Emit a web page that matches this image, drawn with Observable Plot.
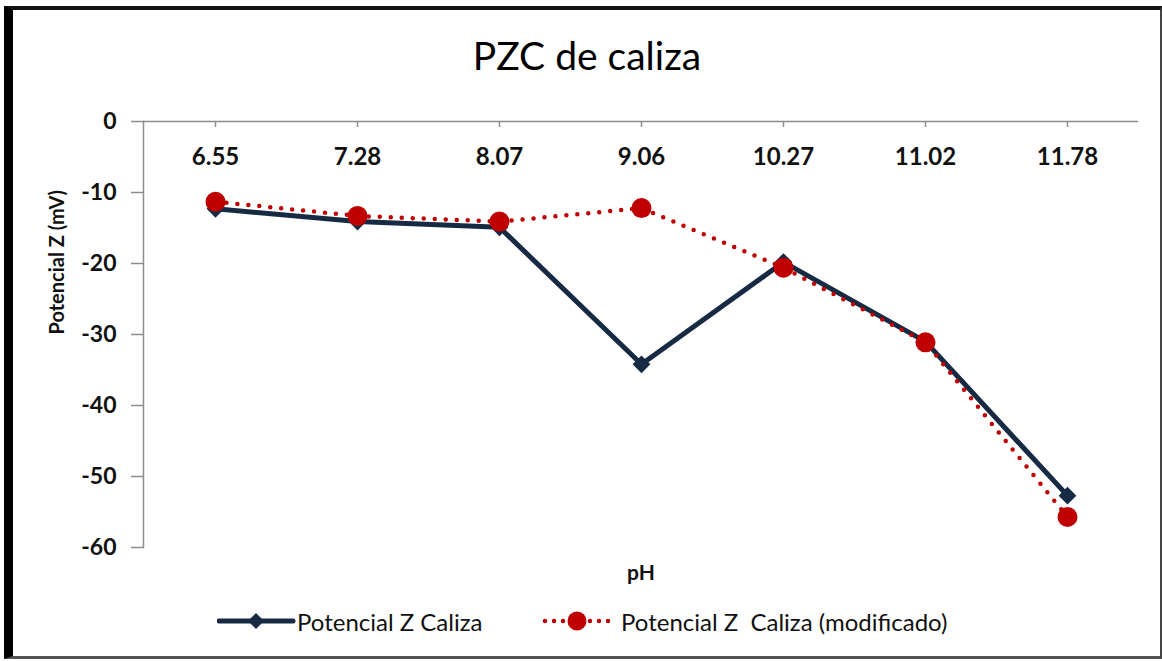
<!DOCTYPE html>
<html>
<head>
<meta charset="utf-8">
<script src="https://cdn.jsdelivr.net/npm/d3@7"></script>
<script src="https://cdn.jsdelivr.net/npm/@observablehq/plot@0.6"></script>
<style>
  html, body { margin: 0; padding: 0; background: #fff; }
  body { width: 1162px; height: 661px; position: relative; overflow: hidden; font-family: Lato, "Open Sans", sans-serif; }
  #frame { position: absolute; left: 4px; top: 6px; width: 1158px; height: 653px; box-sizing: border-box;
           border-left: 9px solid #000; border-top: 4px solid #111; border-right: 2px solid #444; border-bottom: 3px solid #555; }
  #title { position: absolute; top: 32px; left: 587px; transform: translateX(-50%); font-size: 39px; color: #000; white-space: nowrap; }
  #chart { position: absolute; left: 0; top: 80px; }
  #legend { position: absolute; top: 607px; left: 0; width: 1162px; height: 28px; }
  .item { position: absolute; top: 0; display: flex; align-items: center; height: 28px; font-size: 24px; color: #111; white-space: pre; }
  .item svg { display: block; }
</style>
</head>
<body>
<div id="frame"></div>
<div id="title">PZC de caliza</div>
<div id="chart"></div>
<div id="legend"></div>
<script>
const categories = ["6.55", "7.28", "8.07", "9.06", "10.27", "11.02", "11.78"];
const seriesNames = ["Potencial Z Caliza", "Potencial Z  Caliza (modificado)"];
const caliza = [-12.3, -14.1, -14.9, -34.2, -19.8, -31.0, -52.7];
const calizaMod = [-11.3, -13.3, -14.1, -12.2, -20.6, -31.1, -55.7];
const yTicks = [0, -10, -20, -30, -40, -50, -60];
const yLabel = "Potencial Z (mV)";
const xLabel = "pH";

const navy = "#172a44";
const red = "#c00000";
const axisGray = "#8c8c8c";

const rows1 = categories.map((c, i) => ({cat: c, v: caliza[i]}));
const rows2 = categories.map((c, i) => ({cat: c, v: calizaMod[i]}));

const chart = Plot.plot({
  width: 1162,
  height: 520,
  marginTop: 41,
  marginBottom: 53,
  marginLeft: 143,
  marginRight: 24,
  style: {fontFamily: "Lato, 'Open Sans', sans-serif", background: "transparent"},
  x: {type: "point", domain: categories, padding: 0.5, axis: null},
  y: {domain: [-60, 0], axis: null},
  marks: [
    // y axis line and ticks
    Plot.frame({anchor: "left", stroke: axisGray, strokeWidth: 1.5}),
    Plot.axisY({ticks: yTicks, tickSize: 12, tickPadding: 15, stroke: axisGray, strokeWidth: 1.5,
                fontSize: 23, fontWeight: "bold", color: "#111", label: null, tickFormat: d => String(d).replace("−", "-")}),
    // x axis line at y = 0 with ticks pointing down
    Plot.ruleY([0], {stroke: axisGray, strokeWidth: 1.5}),
    Plot.ruleX(categories, {x: d => d, y1: 0, y2: 0, insetBottom: -6, stroke: axisGray, strokeWidth: 1.5}),
    Plot.axisX({anchor: "top", tickSize: 0, tickPadding: 0, dy: 36, lineAnchor: "middle",
                fontSize: 24, fontWeight: "bold", color: "#111", label: null}),
    // series 1
    Plot.line(rows1, {x: "cat", y: "v", stroke: navy, strokeWidth: 5, strokeLinejoin: "miter"}),
    Plot.dot(rows1, {x: "cat", y: "v", symbol: "diamond2", r: 8, fill: navy, stroke: null}),
    // series 2
    Plot.line(rows2, {x: "cat", y: "v", stroke: red, strokeWidth: 4.5, strokeDasharray: "0,11", strokeLinecap: "round"}),
    Plot.dot(rows2, {x: "cat", y: "v", r: 10, fill: red, stroke: null}),
    // axis titles
    Plot.text([yLabel], {frameAnchor: "left", rotate: -90, dx: -86, fontSize: 20, fontWeight: "bold", fill: "#111", lineAnchor: "middle"}),
    Plot.text([xLabel], {frameAnchor: "bottom", dy: 26, fontSize: 21, fontWeight: "bold", fill: "#111", lineAnchor: "middle"})
  ]
});
document.getElementById("chart").appendChild(chart);

// legend
const legend = document.getElementById("legend");
function addItem(left, name, kind) {
  const div = document.createElement("div");
  div.className = "item";
  div.style.left = left + "px";
  const ns = "http://www.w3.org/2000/svg";
  const svg = document.createElementNS(ns, "svg");
  svg.setAttribute("width", 80);
  svg.setAttribute("height", 28);
  if (kind === "navy") {
    svg.innerHTML = `<line x1="2" y1="14" x2="76" y2="14" stroke="${navy}" stroke-width="5" stroke-linecap="round"/>
      <path d="M39,6 L47,14 L39,22 L31,14 Z" fill="${navy}"/>`;
  } else {
    svg.innerHTML = `<line x1="4" y1="14" x2="68" y2="14" stroke="${red}" stroke-width="4.5" stroke-dasharray="0,9" stroke-linecap="round"/>
      <circle cx="36" cy="14" r="9.5" fill="${red}"/>`;
  }
  div.appendChild(svg);
  const span = document.createElement("span");
  span.textContent = name;
  div.appendChild(span);
  legend.appendChild(div);
}
addItem(217, seriesNames[0], "navy");
addItem(541, seriesNames[1], "red");
</script>
</body>
</html>
